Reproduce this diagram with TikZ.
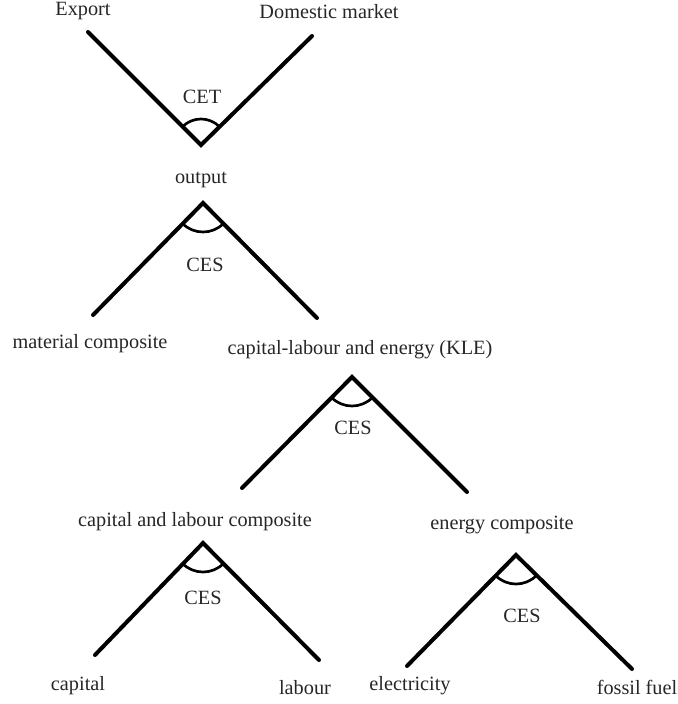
\documentclass[tikz,border=0pt]{standalone}
\usepackage{fontspec}
\setmainfont{Liberation Serif}
\usetikzlibrary{positioning}

\begin{document}
\begin{tikzpicture}[x=0.75pt, y=-0.75pt, font=\fontsize{15.2}{18}\selectfont, lbl/.style={inner sep=0pt, text=black!85}, branch/.style={line width=3pt, line cap=round, line join=miter}, elast/.style={line width=2pt}]
\useasboundingbox (0,0) rectangle (678,704);
% CET nest
\coordinate (cet) at (201,145);
\coordinate (expEnd) at (88,32);
\coordinate (domEnd) at (312,36);
\node[lbl] (exp) at (83,11) {Export};
\node[lbl] (dom) at (329,12) {Domestic market};
\node[lbl] (cetlbl) at (202,97) {CET};
\node[lbl] (out) at (201,180) {output};
\draw[branch] (expEnd) -- (cet) -- (domEnd);
\draw[elast] (cet) ++(225:26) arc[start angle=225, end angle=315, radius=26];
% output nest
\coordinate (ces1) at (203,203);
\coordinate (matEnd) at (93,315);
\coordinate (kleEnd) at (317,318);
\node[lbl] (ces1lbl) at (205,265) {CES};
\node[lbl] (mat) at (90,344) {material composite};
\node[lbl] (kle) at (360,350) {capital-labour and energy (KLE)};
\draw[branch] (matEnd) -- (ces1) -- (kleEnd);
\draw[elast] (ces1) ++(135:29) arc[start angle=135, end angle=45, radius=29];
% KLE nest
\coordinate (ces2) at (352,377);
\coordinate (klEnd) at (242,488);
\coordinate (enEnd) at (467,492);
\node[lbl] (ces2lbl) at (353,428) {CES};
\node[lbl] (kl) at (195,522) {capital and labour composite};
\node[lbl] (en) at (502,525) {energy composite};
\draw[branch] (klEnd) -- (ces2) -- (enEnd);
\draw[elast] (ces2) ++(135:29) arc[start angle=135, end angle=45, radius=29];
% capital-labour nest
\coordinate (ces3) at (203,543);
\coordinate (capEnd) at (95,655);
\coordinate (labEnd) at (319,660);
\node[lbl] (ces3lbl) at (203,598) {CES};
\node[lbl] (cap) at (78,686) {capital};
\node[lbl] (lab) at (305,688) {labour};
\draw[branch] (capEnd) -- (ces3) -- (labEnd);
\draw[elast] (ces3) ++(135:29) arc[start angle=135, end angle=45, radius=29];
% energy nest
\coordinate (ces4) at (516,555);
\coordinate (elEnd) at (407,666);
\coordinate (fosEnd) at (632,669);
\node[lbl] (ces4lbl) at (522,616) {CES};
\node[lbl] (el) at (410,686) {electricity};
\node[lbl] (fos) at (637,687) {fossil fuel};
\draw[branch] (elEnd) -- (ces4) -- (fosEnd);
\draw[elast] (ces4) ++(135:29) arc[start angle=135, end angle=45, radius=29];
\end{tikzpicture}
\end{document}
